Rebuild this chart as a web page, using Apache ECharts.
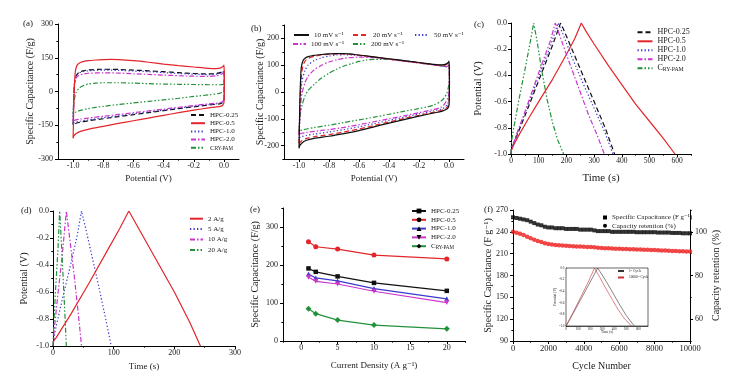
<!DOCTYPE html>
<html><head><meta charset="utf-8">
<script src="https://cdn.jsdelivr.net/npm/echarts@6/dist/echarts.min.js"></script>
<style>html,body{margin:0;padding:0;background:#fff}#c{width:741px;height:378px}</style>
</head><body><div id="c"></div>
<script>
// ================= DATA =================
// (a) CV curves of the samples, [potential V, capacitance F/g]
const cvA_HPC025 = [[-1.0,-148],[-0.998,-100],[-0.995,-20],[-0.99,40],[-0.98,70],[-0.96,85],[-0.93,92],[-0.9,96],[-0.8,99],[-0.7,98],[-0.6,95],[-0.5,92],[-0.4,88],[-0.3,84],[-0.2,80],[-0.1,78],[-0.05,80],[-0.02,85],[0.0,92],[0.002,60],[0.002,0],[0.0,-40],[-0.01,-50],[-0.03,-55],[-0.1,-60],[-0.2,-68],[-0.3,-76],[-0.4,-85],[-0.5,-94],[-0.6,-103],[-0.7,-112],[-0.8,-121],[-0.9,-130],[-0.95,-136],[-0.98,-141],[-1.0,-148]];
const cvA_HPC05 = [[-1.0,-208],[-0.998,-150],[-0.995,-50],[-0.99,40],[-0.985,90],[-0.975,115],[-0.96,126],[-0.94,132],[-0.9,137],[-0.85,140],[-0.8,142],[-0.75,143],[-0.7,142],[-0.6,137],[-0.5,130],[-0.4,122],[-0.3,115],[-0.2,109],[-0.1,103],[-0.05,102],[-0.02,105],[-0.005,112],[0.0,117],[0.002,90],[0.003,40],[0.002,-20],[0.0,-50],[-0.01,-62],[-0.03,-67],[-0.1,-73],[-0.2,-83],[-0.3,-94],[-0.4,-106],[-0.5,-118],[-0.6,-130],[-0.7,-142],[-0.8,-155],[-0.9,-168],[-0.95,-177],[-0.98,-187],[-0.995,-198],[-1.0,-208]];
const cvA_HPC10 = [[-1.0,-142],[-0.998,-90],[-0.995,-10],[-0.99,40],[-0.98,68],[-0.96,82],[-0.93,89],[-0.9,92],[-0.8,95],[-0.7,94],[-0.6,91],[-0.5,88],[-0.4,84],[-0.3,80],[-0.2,77],[-0.1,75],[-0.05,77],[-0.02,82],[0.0,88],[0.002,55],[0.002,0],[0.0,-38],[-0.01,-48],[-0.03,-53],[-0.1,-58],[-0.2,-66],[-0.3,-74],[-0.4,-83],[-0.5,-91],[-0.6,-99],[-0.7,-108],[-0.8,-117],[-0.9,-126],[-0.95,-132],[-0.98,-136],[-1.0,-142]];
const cvA_HPC20 = [[-1.0,-130],[-0.998,-80],[-0.995,-10],[-0.99,35],[-0.98,60],[-0.96,72],[-0.93,78],[-0.9,81],[-0.8,83],[-0.7,82],[-0.6,79],[-0.5,76],[-0.4,73],[-0.3,70],[-0.2,68],[-0.1,67],[-0.05,70],[-0.02,76],[0.0,84],[0.002,50],[0.002,0],[0.0,-35],[-0.01,-45],[-0.03,-50],[-0.1,-55],[-0.2,-62],[-0.3,-70],[-0.4,-78],[-0.5,-86],[-0.6,-94],[-0.7,-102],[-0.8,-110],[-0.9,-118],[-0.95,-123],[-0.98,-126],[-1.0,-130]];
const cvA_Cry = [[-1.0,-100],[-0.995,-60],[-0.99,-30],[-0.98,-5],[-0.96,15],[-0.93,27],[-0.9,33],[-0.85,37],[-0.8,39],[-0.7,39],[-0.6,37],[-0.5,35],[-0.4,33],[-0.3,32],[-0.2,31],[-0.1,30],[-0.02,30],[0.0,32],[0.002,20],[0.0,5],[-0.01,-2],[-0.03,-8],[-0.1,-15],[-0.2,-22],[-0.3,-30],[-0.4,-37],[-0.5,-44],[-0.6,-51],[-0.7,-58],[-0.8,-66],[-0.9,-76],[-0.95,-84],[-0.98,-91],[-1.0,-100]];

// (b) CV of HPC-0.5 at different scan rates
const cvB_10 = [[-1.0,-210],[-0.998,-150],[-0.995,-50],[-0.99,40],[-0.985,90],[-0.975,115],[-0.96,126],[-0.94,132],[-0.9,137],[-0.85,140],[-0.8,142],[-0.75,143],[-0.7,143],[-0.6,138],[-0.5,131],[-0.4,124],[-0.3,117],[-0.2,110],[-0.1,103],[-0.05,101],[-0.02,104],[-0.005,110],[0.0,115],[0.002,90],[0.003,40],[0.002,-20],[0.0,-50],[-0.01,-62],[-0.03,-68],[-0.05,-72],[-0.1,-78],[-0.2,-90],[-0.3,-103],[-0.4,-116],[-0.5,-130],[-0.6,-144],[-0.7,-155],[-0.8,-165],[-0.9,-173],[-0.95,-180],[-0.98,-190],[-0.995,-200],[-1.0,-210]];
const cvB_20 = [[-1.0,-192],[-0.997,-120],[-0.993,-30],[-0.985,50],[-0.975,95],[-0.96,115],[-0.94,125],[-0.9,133],[-0.85,138],[-0.8,141],[-0.75,142],[-0.7,142],[-0.6,137],[-0.5,130],[-0.4,123],[-0.3,116],[-0.2,109],[-0.1,102],[-0.05,100],[-0.02,102],[0.0,110],[0.002,80],[0.003,30],[0.0,-35],[-0.01,-55],[-0.03,-64],[-0.05,-68],[-0.1,-75],[-0.2,-87],[-0.3,-99],[-0.4,-112],[-0.5,-125],[-0.6,-138],[-0.7,-149],[-0.8,-159],[-0.9,-167],[-0.95,-173],[-0.98,-181],[-1.0,-192]];
const cvB_50 = [[-1.0,-172],[-0.995,-100],[-0.99,-20],[-0.98,40],[-0.96,80],[-0.94,100],[-0.9,117],[-0.85,128],[-0.8,134],[-0.75,138],[-0.7,139],[-0.6,136],[-0.5,129],[-0.4,122],[-0.3,115],[-0.2,108],[-0.1,101],[-0.05,98],[-0.02,97],[0.0,100],[0.003,60],[0.003,10],[0.0,-25],[-0.01,-45],[-0.03,-58],[-0.05,-63],[-0.1,-70],[-0.2,-82],[-0.3,-94],[-0.4,-106],[-0.5,-118],[-0.6,-130],[-0.7,-140],[-0.8,-149],[-0.9,-157],[-0.95,-162],[-0.98,-166],[-1.0,-172]];
const cvB_100 = [[-1.0,-157],[-0.995,-100],[-0.99,-50],[-0.98,-5],[-0.96,35],[-0.94,58],[-0.9,82],[-0.85,100],[-0.8,112],[-0.75,120],[-0.7,126],[-0.6,130],[-0.5,128],[-0.4,122],[-0.3,115],[-0.2,108],[-0.1,101],[-0.05,97],[-0.02,95],[0.0,96],[0.003,60],[0.003,20],[0.0,-5],[-0.01,-25],[-0.03,-45],[-0.05,-56],[-0.1,-65],[-0.2,-77],[-0.3,-89],[-0.4,-100],[-0.5,-111],[-0.6,-122],[-0.7,-132],[-0.8,-140],[-0.9,-147],[-0.95,-151],[-0.98,-154],[-1.0,-157]];
const cvB_200 = [[-1.0,-145],[-0.995,-110],[-0.99,-80],[-0.98,-50],[-0.96,-15],[-0.94,5],[-0.9,28],[-0.85,52],[-0.8,70],[-0.75,85],[-0.7,97],[-0.65,106],[-0.6,114],[-0.55,119],[-0.5,122],[-0.4,122],[-0.3,117],[-0.2,110],[-0.1,102],[-0.05,97],[-0.02,95],[0.0,93],[0.003,70],[0.002,40],[-0.005,15],[-0.015,-5],[-0.03,-20],[-0.05,-33],[-0.1,-48],[-0.15,-56],[-0.2,-62],[-0.3,-72],[-0.4,-83],[-0.5,-94],[-0.6,-104],[-0.7,-114],[-0.8,-124],[-0.9,-133],[-0.95,-138],[-0.98,-142],[-1.0,-145]];

// (c) GCD curves of the samples, [time s, potential V]
const gcdC_HPC025 = [[0,-1.0],[2,-0.96],[25,-0.84],[50,-0.71],[100,-0.44],[150,-0.17],[179,0],[190,-0.05],[220,-0.2],[260,-0.4],[300,-0.6],[340,-0.8],[374,-1.0]];
const gcdC_HPC05 = [[0,-0.98],[10,-0.93],[30,-0.85],[60,-0.74],[100,-0.6],[150,-0.43],[200,-0.24],[230,-0.12],[254,0],[270,-0.06],[300,-0.16],[350,-0.32],[400,-0.47],[450,-0.62],[500,-0.75],[550,-0.88],[592,-1.0]];
const gcdC_HPC10 = [[0,-1.0],[2,-0.96],[25,-0.83],[50,-0.69],[100,-0.41],[140,-0.19],[170,0],[185,-0.07],[220,-0.26],[260,-0.46],[300,-0.65],[340,-0.84],[368,-1.0]];
const gcdC_HPC20 = [[0,-1.0],[2,-0.96],[25,-0.82],[50,-0.68],[100,-0.38],[140,-0.15],[160,0],[175,-0.09],[200,-0.24],[240,-0.47],[280,-0.7],[310,-0.85],[337,-1.0]];
const gcdC_Cry = [[0,-1.0],[2,-0.9],[10,-0.8],[30,-0.57],[50,-0.36],[70,-0.14],[82,0],[95,-0.15],[110,-0.35],[130,-0.58],[150,-0.76],[170,-0.9],[190,-1.0]];

// (d) GCD of HPC-0.5 at different current densities
const gcdD_2 = [[0,-0.97],[5,-0.94],[30,-0.76],[60,-0.53],[90,-0.29],[110,-0.13],[125,0],[150,-0.2],[175,-0.4],[200,-0.6],[225,-0.82],[243,-1.0]];
const gcdD_5 = [[0,-1.0],[3,-0.9],[15,-0.66],[30,-0.38],[40,-0.18],[47,0],[55,-0.15],[65,-0.35],[75,-0.55],[85,-0.76],[96,-1.0]];
const gcdD_10 = [[0,-1.0],[2,-0.88],[8,-0.62],[15,-0.34],[22,0],[28,-0.22],[35,-0.48],[41,-0.73],[47,-1.0]];
const gcdD_20 = [[0,-1.0],[1,-0.88],[4,-0.6],[8,-0.3],[11,0],[14,-0.25],[17,-0.52],[20,-0.8],[22,-1.0]];

// (e) rate capability
const currentDensity = [1, 2, 5, 10, 20];
const capE_HPC025 = [191, 182, 170, 153, 132];
const capE_HPC05 = [261, 248, 242, 226, 216];
const capE_HPC10 = [176, 166, 158, 138, 111];
const capE_HPC20 = [168, 157, 150, 131, 101];
const capE_Cry = [85, 72, 55, 42, 32];

// (f) cycling stability
const cycleNo = [0,200,400,600,800,1000,1200,1400,1600,1800,2000,2200,2400,2600,2800,3000,3200,3400,3600,3800,4000,4200,4400,4600,4800,5000,5200,5400,5600,5800,6000,6200,6400,6600,6800,7000,7200,7400,7600,7800,8000,8200,8400,8600,8800,9000,9200,9400,9600,9800,10000];
const capF = [260,259,258,257,256,254,252,250,249,247,246,246,245,245,245,244,244,244,244,243,243,243,243,242,241,241,241,241,240,240,240,240,240,240,240,239.5,239.5,239.5,239.5,239.5,239.5,239,239,239,239,238.5,238.5,238.5,238,238,238];
const retentionF = [100,99.6,99.1,98.5,97.8,97.1,96.4,95.8,95.3,94.8,94.4,94.2,94.0,93.8,93.7,93.6,93.5,93.4,93.3,93.3,93.2,93.1,93.0,92.9,92.7,92.6,92.5,92.5,92.4,92.3,92.2,92.1,92.1,92.0,92.0,91.9,91.9,91.8,91.8,91.7,91.7,91.6,91.5,91.4,91.3,91.2,91.2,91.1,91.1,91.0,91.0];
// (f) inset GCD
const inset1st = [[0,-1.0],[20,-0.93],[60,-0.78],[120,-0.55],[180,-0.32],[230,-0.13],[262,0],[300,-0.12],[350,-0.29],[400,-0.47],[450,-0.65],[500,-0.82],[540,-0.93],[567,-1.0]];
const inset10000 = [[0,-1.0],[20,-0.92],[60,-0.76],[120,-0.51],[180,-0.26],[215,-0.1],[236,0],[280,-0.16],[330,-0.35],[380,-0.53],[430,-0.71],[480,-0.86],[520,-0.95],[542,-1.0]];

// tick label values
const tickCVx = [-1.0,-0.8,-0.6,-0.4,-0.2,0.0], minorCVx = [-0.9,-0.7,-0.5,-0.3,-0.1];
const tickAy = [-300,-150,0,150,300], minorAy = [-225,-75,75,225];
const tickBy = [-200,-100,0,100,200], minorBy = [-250,-150,-50,50,150,250];
const tickVy = [-1.0,-0.8,-0.6,-0.4,-0.2,0.0], minorVy = [-0.9,-0.7,-0.5,-0.3,-0.1];
const tickCx = [0,100,200,300,400,500,600], minorCx = [50,150,250,350,450,550,650];
const tickDx = [0,100,200,300], minorDx = [50,150,250];
const tickEx = [0,5,10,15,20], minorEx = [-2.5,2.5,7.5,12.5,17.5,22.5];
const tickEy = [0,100,200,300], minorEy = [50,150,250,350];
const tickFx = [0,2000,4000,6000,8000,10000], minorFx = [1000,3000,5000,7000,9000];
const tickFy = [90,120,150,180,210,240,270], minorFy = [105,135,165,195,225,255];
const tickFr = [60,80,100], minorFr = [50,70,90,110];
const tickIx = [0,100,200,300,400,500,600];

// ================= CHART =================
const FONT = "'Liberation Serif','DejaVu Serif',serif";
const TXT = '#1a1a1a';
const C = {k:'#111111', r:'#e3262b', b:'#3a3acb', m:'#cc35cc', g:'#23913a'};
const D = {solid:'solid', dash:[5,3], dot:[1.3,2.2], dashdot:[5,2,1.5,2], dashdotdot:[5,2,1.5,2,1.5,2]};
const f1 = v => (Math.abs(v) < 1e-9 ? 0 : v).toFixed(1);
const xAxes = [], yAxes = [];
function addAxis(list, g, o) {
  const idx = list.length;
  const tl = o.tl || 3;
  list.push({
    type:'value', gridIndex:g, min:o.min, max:o.max, position:o.pos,
    splitLine:{show:false},
    axisLine:{show:true, onZero:false, lineStyle:{color:'#000', width:o.lw || 1}},
    axisTick:{show:true, inside:!!o.inside, length:tl, customValues:o.ticks, lineStyle:{color:'#000', width:o.lw || 1}},
    axisLabel:{show:true, customValues:o.ticks, margin:(o.lm != null ? o.lm : 4), fontSize:o.fs || 8, fontFamily:FONT, color:TXT, formatter:o.fmt || (v => String(v))},
    name:o.name || '', nameLocation:'middle', nameGap:o.ng || 20, nameMoveOverlap:false,
    nameTextStyle:{fontSize:o.nfs || 9, fontFamily:FONT, color:TXT},
    silent:true
  });
  if (o.minors) list.push({
    type:'value', gridIndex:g, min:o.min, max:o.max, position:o.pos,
    splitLine:{show:false}, axisLine:{show:false, onZero:false},
    axisTick:{show:true, inside:!!o.inside, length:tl * 0.55, customValues:o.minors, lineStyle:{color:'#000', width:o.lw || 1}},
    axisLabel:{show:false}, silent:true
  });
  return idx;
}
const ax = addAxis(xAxes, 0, {min:-1.1, max:0.1, pos:'bottom', ticks:tickCVx, minors:minorCVx, fmt:f1, name:'Potential (V)', ng:15, lm:3});
const ay = addAxis(yAxes, 0, {min:-300, max:300, pos:'left', ticks:tickAy, minors:minorAy, name:'Specific Capacitance (F/g)', ng:23, lm:5, nfs:10});
const bx = addAxis(xAxes, 1, {min:-1.1, max:0.1, pos:'bottom', ticks:tickCVx, minors:minorCVx, fmt:f1, name:'Potential (V)', ng:15, lm:3});
const by = addAxis(yAxes, 1, {min:-250, max:250, pos:'left', ticks:tickBy, minors:minorBy, name:'Specific Capacitance (F/g)', ng:19, lm:5, nfs:10});
const cx = addAxis(xAxes, 2, {min:0, max:650, pos:'bottom', ticks:tickCx, minors:minorCx, name:'Time (s)', ng:18.5, lm:3, fs:7.5, nfs:11});
const cy = addAxis(yAxes, 2, {min:-1, max:0, pos:'left', ticks:tickVy, minors:minorVy, fmt:f1, name:'Potential (V)', ng:27, lm:4, nfs:10.5});
const dx = addAxis(xAxes, 3, {min:0, max:300, pos:'bottom', ticks:tickDx, minors:minorDx, name:'Time (s)', ng:16, lm:3});
const dy = addAxis(yAxes, 3, {min:-1, max:0, pos:'left', ticks:tickVy, minors:minorVy, fmt:f1, name:'Potential (V)', ng:24, lm:4, nfs:10});
const ex = addAxis(xAxes, 4, {min:-2.5, max:22.5, pos:'bottom', ticks:tickEx, minors:minorEx, name:'Current Density (A g\u207B\u00B9)', ng:20, lm:3});
const ey = addAxis(yAxes, 4, {min:0, max:350, pos:'left', ticks:tickEy, minors:minorEy, name:'Specific Capacitance (F/g)', ng:23, lm:5, nfs:10});
const fx = addAxis(xAxes, 5, {min:0, max:10000, pos:'bottom', ticks:tickFx, minors:minorFx, name:'Cycle Number', ng:20, lm:3, fs:8.5, nfs:10});
const fy = addAxis(yAxes, 5, {min:90, max:270, pos:'left', ticks:tickFy, minors:minorFy, name:'Specific Capacitance (F g\u207B\u00B9)', ng:20, lm:5, nfs:10});
const fr = addAxis(yAxes, 5, {min:50, max:110, pos:'right', ticks:tickFr, minors:minorFr, name:'Capacity retention (%)', ng:21, lm:5, nfs:10});
const ix = addAxis(xAxes, 6, {min:0, max:680, pos:'bottom', ticks:tickIx, name:'Time (s)', ng:4, lm:1.5, fs:3.3, nfs:3.5, tl:1.2, inside:true, lw:0.6});
const iy = addAxis(yAxes, 6, {min:-1, max:0, pos:'left', ticks:tickVy, fmt:f1, name:'Potential (V)', ng:9, lm:1.5, fs:3.3, nfs:3.5, tl:1.2, inside:true, lw:0.6});

function ln(name, data, xi, yi, color, dash, extra) {
  return Object.assign({type:'line', name, data, xAxisIndex:xi, yAxisIndex:yi, symbol:'none',
    lineStyle:{color, width:1.2, type:dash}, itemStyle:{color}, animation:false, silent:true}, extra || {});
}
const sm = {smooth:0.25};
const zip = (xs, ys) => xs.map((x, i) => [x, ys[i]]);
const mk = (sym, size, rot) => ({symbol:sym, symbolSize:size, symbolRotate:rot || 0, showSymbol:true});

const series = [
  ln('HPC-0.25', cvA_HPC025, ax, ay, C.k, D.dash, sm),
  ln('HPC-1.0', cvA_HPC10, ax, ay, C.b, D.dot, sm),
  ln('HPC-2.0', cvA_HPC20, ax, ay, C.m, D.dashdot, sm),
  ln('Cry-PAM', cvA_Cry, ax, ay, C.g, D.dashdotdot, sm),
  ln('HPC-0.5', cvA_HPC05, ax, ay, C.r, D.solid, sm),

  ln('200 mV s\u207B\u00B9', cvB_200, bx, by, C.g, D.dashdotdot, sm),
  ln('100 mV s\u207B\u00B9', cvB_100, bx, by, C.m, D.dashdot, sm),
  ln('50 mV s\u207B\u00B9', cvB_50, bx, by, C.b, D.dot, sm),
  ln('20 mV s\u207B\u00B9', cvB_20, bx, by, C.r, D.dash, sm),
  ln('10 mV s\u207B\u00B9', cvB_10, bx, by, C.k, D.solid, sm),

  ln('HPC-0.25', gcdC_HPC025, cx, cy, C.k, D.dash),
  ln('HPC-0.5', gcdC_HPC05, cx, cy, C.r, D.solid),
  ln('HPC-1.0', gcdC_HPC10, cx, cy, C.b, D.dot),
  ln('HPC-2.0', gcdC_HPC20, cx, cy, C.m, D.dashdot),
  ln('Cry-PAM', gcdC_Cry, cx, cy, C.g, D.dashdotdot),

  ln('2 A/g', gcdD_2, dx, dy, C.r, D.solid),
  ln('5 A/g', gcdD_5, dx, dy, C.b, D.dot),
  ln('10 A/g', gcdD_10, dx, dy, C.m, D.dashdot),
  ln('20 A/g', gcdD_20, dx, dy, C.g, D.dashdotdot),

  ln('HPC-0.25|e', zip(currentDensity, capE_HPC025), ex, ey, C.k, 'solid', mk('rect', 4.5)),
  ln('HPC-0.5|e', zip(currentDensity, capE_HPC05), ex, ey, C.r, 'solid', mk('circle', 5)),
  ln('HPC-1.0|e', zip(currentDensity, capE_HPC10), ex, ey, C.b, 'solid', mk('triangle', 5)),
  ln('HPC-2.0|e', zip(currentDensity, capE_HPC20), ex, ey, C.m, 'solid', mk('triangle', 5, 180)),
  ln('Cry-PAM|e', zip(currentDensity, capE_Cry), ex, ey, C.g, 'solid', mk('diamond', 6)),

  {type:'scatter', name:'Specific Capacitance (F g\u207B\u00B9)', data:zip(cycleNo, capF), xAxisIndex:fx, yAxisIndex:fy,
   symbol:'rect', symbolSize:4, itemStyle:{color:'#000'}, animation:false, silent:true},
  {type:'scatter', name:'Capacity retention (%)', data:zip(cycleNo, retentionF), xAxisIndex:fx, yAxisIndex:fr,
   symbol:'circle', symbolSize:4.5, itemStyle:{color:'#ee1c1c'}, animation:false, silent:true},

  ln('1\u02E2\u1D57 Cycle', inset1st, ix, iy, '#333', D.solid, {lineStyle:{color:'#333', width:0.6}}),
  ln('10000\u1D57\u02B0 Cycle', inset10000, ix, iy, '#c8323c', D.solid, {lineStyle:{color:'#c8323c', width:0.6}})
];

function legFmt(name) {
  const n = name.split('|')[0];
  if (n === 'Cry-PAM') return '{c|C}{s|RY-PAM}';
  return n;
}
function leg(names, left, top, o) {
  const fs = o.fs || 7;
  return {show:true, orient:o.orient || 'vertical', left, top, padding:0,
    itemWidth:o.iw || 15, itemHeight:o.ih || 6, itemGap:o.gap != null ? o.gap : 1,
    selectedMode:false, data:names, formatter:legFmt,
    itemStyle:o.itemStyle, 
    textStyle:{fontSize:fs, fontFamily:FONT, color:TXT,
      rich:{c:{fontSize:fs, fontFamily:FONT, color:TXT, verticalAlign:'bottom'}, s:{fontSize:fs * 0.72, fontFamily:FONT, color:TXT, verticalAlign:'bottom'}}}};
}
const sampleNames = ['HPC-0.25','HPC-0.5','HPC-1.0','HPC-2.0','Cry-PAM'];
const hide = {opacity:0};
const legends = [
  leg(sampleNames, 190, 111.5, {iw:14, ih:6, gap:1.2, fs:7, itemStyle:hide}),
  leg(['10 mV s\u207B\u00B9'], 293, 31.5, {iw:15, fs:7, itemStyle:hide}),
  leg(['20 mV s\u207B\u00B9'], 352, 31.5, {iw:15, fs:7, itemStyle:hide}),
  leg(['50 mV s\u207B\u00B9'], 414, 31.5, {iw:14, fs:7, itemStyle:hide}),
  leg(['100 mV s\u207B\u00B9'], 292, 40.5, {iw:13, fs:7, itemStyle:hide}),
  leg(['200 mV s\u207B\u00B9'], 352, 40.5, {iw:13, fs:7, itemStyle:hide}),
  leg(sampleNames, 636.5, 28.3, {iw:15, ih:7, gap:1, fs:8, itemStyle:hide}),
  leg(['2 A/g','5 A/g','10 A/g','20 A/g'], 189, 215.2, {iw:13, ih:6, gap:3.4, fs:7, itemStyle:hide}),
  leg(['HPC-0.25|e','HPC-0.5|e','HPC-1.0|e','HPC-2.0|e','Cry-PAM|e'], 411, 207.5, {iw:14, ih:6, gap:1.8, fs:7}),
  leg(['Specific Capacitance (F g\u207B\u00B9)','Capacity retention (%)'], 603, 214, {iw:4, ih:4, gap:1.2, fs:7}),
  leg(['1\u02E2\u1D57 Cycle','10000\u1D57\u02B0 Cycle'], 617, 269, {iw:6, ih:3, gap:2.5, fs:3.5, itemStyle:hide})
];

function ptxt(t, x, y) {
  return {type:'text', x, y, silent:true, style:{text:t, fontSize:9, fontFamily:FONT, fill:TXT, verticalAlign:'middle'}};
}

const gridBase = {containLabel:false, outerBoundsMode:'none'};
const option = {
  animation:false,
  backgroundColor:'#ffffff',
  grid:[
    Object.assign({left:58, top:24, width:181, height:135}, gridBase),
    Object.assign({left:284, top:25, width:180, height:134}, gridBase),
    Object.assign({left:511, top:23, width:180, height:131}, gridBase),
    Object.assign({left:53, top:211, width:182, height:135}, gridBase),
    Object.assign({left:283, top:208, width:182, height:133}, gridBase),
    Object.assign({left:513, top:210, width:177, height:131}, gridBase),
    Object.assign({left:566, top:268, width:82, height:58, show:true, borderColor:'#000', borderWidth:0.6, backgroundColor:'#fff', z:3}, gridBase)
  ],
  xAxis:xAxes,
  yAxis:yAxes,
  legend:legends,
  series:series,
  graphic:[ptxt('(a)', 23, 24), ptxt('(b)', 251, 29), ptxt('(c)', 474, 25), ptxt('(d)', 21, 211), ptxt('(e)', 250, 210), ptxt('(f)', 484, 210)]
};
const chart = echarts.init(document.getElementById('c'), null, {renderer:'canvas'});
chart.setOption(option);
</script>
</body></html>
